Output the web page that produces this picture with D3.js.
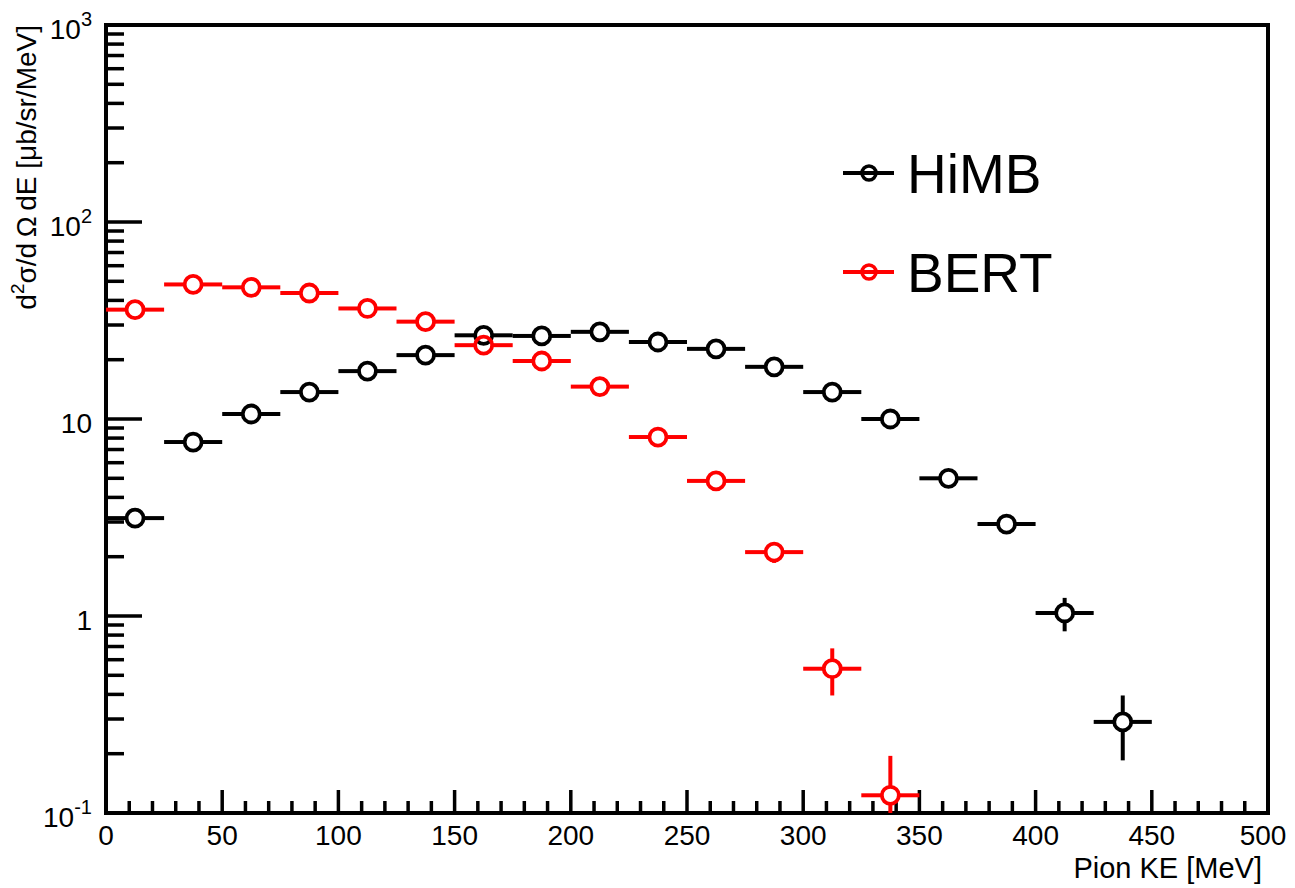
<!DOCTYPE html>
<html>
<head>
<meta charset="utf-8">
<script src="https://cdn.jsdelivr.net/npm/d3@7"></script>
<style>
  body { margin: 0; background: #fff; }
  text { font-family: "Liberation Sans", Arial, sans-serif; fill: #000; }
</style>
</head>
<body>
<div id="chart"></div>
<script>
// bin centres (Pion KE, MeV), bins are 25 MeV wide
const binCentres = [12.5, 37.5, 62.5, 87.5, 112.5, 137.5, 162.5, 187.5, 212.5,
  237.5, 262.5, 287.5, 312.5, 337.5, 362.5, 387.5, 412.5, 437.5];
const binWidth = 25;

const himbValues = [3.14, 7.64, 10.6, 13.7, 17.5, 21.1, 26.6, 26.4, 27.7,
  24.6, 22.7, 18.4, 13.7, 10.0, 5.0, 2.93, 1.036, 0.29];
const himbErrors = [0.12, 0.2, 0.25, 0.3, 0.35, 0.4, 0.45, 0.45, 0.45,
  0.45, 0.42, 0.38, 0.33, 0.3, 0.2, 0.15, 0.2, 0.105];

const bertValues = [35.9, 48.2, 46.6, 43.6, 36.4, 31.2, 23.7, 19.7, 14.6,
  8.1, 4.85, 2.11, 0.54, 0.123];
const bertErrors = [0.6, 0.7, 0.7, 0.65, 0.6, 0.55, 0.5, 0.45, 0.4,
  0.3, 0.25, 0.25, 0.145, 0.072];

const xTicks = [0, 50, 100, 150, 200, 250, 300, 350, 400, 450, 500];
const yTicks = [0.1, 1, 10, 100, 1000];
const yTickLabels = [['10', '-1'], ['1', ''], ['10', ''], ['10', '2'], ['10', '3']];

const series = [
  {name: 'HiMB', colour: '#000', values: himbValues, errors: himbErrors},
  {name: 'BERT', colour: '#f00', values: bertValues, errors: bertErrors}
];

const width = 1295, height = 888;
const margin = {top: 25, right: 27, bottom: 75, left: 106};
const markerR = 8.5;

const svg = d3.select('#chart').append('svg')
  .attr('width', width)
  .attr('height', height);

const x = d3.scaleLinear()
  .domain([0, 500])
  .range([margin.left, width - margin.right]);
const y = d3.scaleLog()
  .domain([0.1, 1000])
  .range([height - margin.bottom, margin.top]);

svg.append('clipPath').attr('id', 'frame')
  .append('rect')
  .attr('x', x(0)).attr('y', y(1000))
  .attr('width', x(500) - x(0)).attr('height', y(0.1) - y(1000));

// x axis ticks (major every 50, minor every 10)
const xMinor = d3.range(0, 501, 10);
svg.append('g').selectAll('line')
  .data(xMinor)
  .enter().append('line')
    .attr('x1', d => x(d)).attr('x2', d => x(d))
    .attr('y1', y(0.1))
    .attr('y2', d => y(0.1) - (d % 50 === 0 ? 23 : 12))
    .attr('stroke', '#000').attr('stroke-width', 3.5);

svg.append('g').selectAll('text')
  .data(xTicks)
  .enter().append('text')
    .attr('x', d => x(d) - (d === 500 ? 5 : 0))
    .attr('y', y(0.1) + 32)
    .attr('text-anchor', 'middle')
    .style('font-size', '28px')
    .text(d => d);

// y axis ticks (major each decade, minor 2..9)
const yMinor = [];
[0.1, 1, 10, 100].forEach(dec => {
  for (let k = 1; k <= 9; k++) yMinor.push(dec * k);
});
yMinor.push(1000);
svg.append('g').selectAll('line')
  .data(yMinor)
  .enter().append('line')
    .attr('x1', x(0))
    .attr('x2', d => x(0) + (Math.abs(Math.log10(d) - Math.round(Math.log10(d))) < 1e-9 ? 36 : 18))
    .attr('y1', d => y(d)).attr('y2', d => y(d))
    .attr('stroke', '#000').attr('stroke-width', 3.5);

const yLab = svg.append('g').selectAll('text')
  .data(yTicks)
  .enter().append('text')
    .attr('x', 92)
    .attr('y', d => y(d) + 14)
    .attr('text-anchor', 'end')
    .style('font-size', '28px');
yLab.append('tspan').text((d, i) => yTickLabels[i][0]);
yLab.append('tspan')
  .attr('dy', -13)
  .style('font-size', '20px')
  .text((d, i) => yTickLabels[i][1]);

// frame
svg.append('rect')
  .attr('x', x(0)).attr('y', y(1000))
  .attr('width', x(500) - x(0)).attr('height', y(0.1) - y(1000))
  .attr('fill', 'none').attr('stroke', '#000').attr('stroke-width', 4);

// axis titles
svg.append('text')
  .attr('x', x(500) - 6)
  .attr('y', 878)
  .attr('text-anchor', 'end')
  .style('font-size', '29px')
  .text('Pion KE [MeV]');

const yTitle = svg.append('text')
  .attr('transform', `translate(36,${y(1000)}) rotate(-90)`)
  .attr('text-anchor', 'end')
  .style('font-size', '28px');
yTitle.append('tspan').text('d');
yTitle.append('tspan').attr('dy', -12).style('font-size', '19px').text('2');
yTitle.append('tspan').attr('dy', 12).text('σ/d\u2009Ω\u2009dE [μb/sr/MeV]');

// data points with error bars
const plot = svg.append('g').attr('clip-path', 'url(#frame)');
series.forEach(s => {
  const pts = s.values.map((v, i) => ({c: binCentres[i], v: v, e: s.errors[i]}));
  const g = plot.append('g');
  pts.forEach(p => {
    const cx = x(p.c), cy = y(p.v);
    const segs = [
      [x(p.c - binWidth / 2), cy, cx - markerR, cy],
      [cx + markerR, cy, x(p.c + binWidth / 2), cy]
    ];
    const yTop = y(p.v + p.e), yBot = y(Math.max(p.v - p.e, 1e-4));
    if (yTop < cy - markerR) segs.push([cx, cy - markerR, cx, yTop]);
    if (yBot > cy + markerR) segs.push([cx, cy + markerR, cx, yBot]);
    g.selectAll(null).data(segs).enter().append('line')
      .attr('x1', d => d[0]).attr('y1', d => d[1])
      .attr('x2', d => d[2]).attr('y2', d => d[3])
      .attr('stroke', s.colour).attr('stroke-width', 4);
  });
  g.selectAll('circle')
    .data(pts)
    .enter().append('circle')
      .attr('cx', d => x(d.c))
      .attr('cy', d => y(d.v))
      .attr('r', markerR)
      .attr('fill', 'none')
      .attr('stroke', s.colour)
      .attr('stroke-width', 3.8);
});

// legend
const legend = svg.append('g').attr('transform', 'translate(843,173)');
const entry = legend.selectAll('g')
  .data(series)
  .enter().append('g')
    .attr('transform', (d, i) => `translate(0,${i * 99})`);
entry.append('line')
  .attr('x1', 0).attr('x2', 51)
  .attr('stroke', d => d.colour).attr('stroke-width', 4);
entry.append('circle')
  .attr('cx', 26).attr('r', 7)
  .attr('fill', 'none')
  .attr('stroke', d => d.colour).attr('stroke-width', 3.5);
entry.append('text')
  .attr('x', 64).attr('y', 20)
  .style('font-size', '55px')
  .text(d => d.name);
</script>
</body>
</html>
